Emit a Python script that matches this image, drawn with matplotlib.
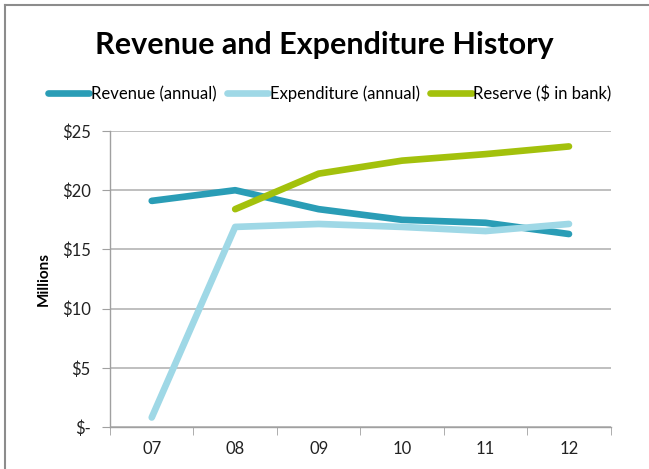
import matplotlib.pyplot as plt
from matplotlib.lines import Line2D
import numpy as np

# data (millions of dollars)
years = ['07', '08', '09', '10', '11', '12']
revenue = [19.1, 20.0, 18.4, 17.5, 17.25, 16.3]
expenditure = [0.8, 16.9, 17.15, 16.9, 16.55, 17.15]
reserve = [None, 18.4, 21.4, 22.5, 23.05, 23.7]
yticks = [0, 5, 10, 15, 20, 25]
ytick_labels = ['$-', '$5', '$10', '$15', '$20', '$25']

plt.rcParams['font.family'] = ['Lato', 'DejaVu Sans']

fig = plt.figure(figsize=(6.49, 4.69), dpi=100)
ax = fig.add_axes([0.1695, 0.0896, 0.7715, 0.631])

x = np.arange(len(years))
rev_col = '#2a9db6'
exp_col = '#9fd8e6'
res_col = '#a3c10c'
lw = 4.8

ax.plot(x, revenue, color=rev_col, lw=lw, solid_capstyle='round', solid_joinstyle='round')
ax.plot(x, expenditure, color=exp_col, lw=lw, solid_capstyle='round', solid_joinstyle='round')
res_x = [i for i, v in enumerate(reserve) if v is not None]
res_y = [v for v in reserve if v is not None]
ax.plot(res_x, res_y, color=res_col, lw=lw, solid_capstyle='round', solid_joinstyle='round')

ax.set_xlim(-0.5, len(years) - 0.5)
ax.set_ylim(0, 25)
ax.set_yticks(yticks)
ax.set_yticklabels(ytick_labels, fontsize=12, color='#222222')
ax.set_xticks(x)
ax.set_xticklabels(years, fontsize=12, color='#222222')
ax.set_xticks(np.arange(-0.5, len(years)), minor=True)
ax.tick_params(axis='x', which='major', length=0, pad=10)
ax.tick_params(axis='x', which='minor', length=6, color='#a0a0a0', direction='out')
ax.tick_params(axis='y', length=6, color='#a0a0a0', pad=8)

ax.grid(axis='y', color='#b4b4b4', lw=1.2)
ax.set_axisbelow(True)
for s in ['top', 'right']:
    ax.spines[s].set_visible(False)
for s in ['left', 'bottom']:
    ax.spines[s].set_color('#a0a0a0')
    ax.spines[s].set_linewidth(1)

ax.set_ylabel('Millions', fontsize=11, fontweight='bold', labelpad=8)

fig.text(0.5, 0.905, 'Revenue and Expenditure History', ha='center', va='center',
         fontsize=22, fontweight='bold')

handles = [Line2D([], [], color=c, lw=lw, solid_capstyle='round') for c in (rev_col, exp_col, res_col)]
fig.legend(handles, ['Revenue (annual)', 'Expenditure (annual)', 'Reserve ($ in bank)'],
           loc='center', bbox_to_anchor=(0.508, 0.8), ncol=3, frameon=False, fontsize=12,
           handlelength=2.5, handletextpad=0.1, columnspacing=0.6)

# chart frame (top and left edges visible)
fig.add_artist(Line2D([0.008, 1.0], [0.99, 0.99], color='#8c8c8c', lw=1.5, transform=fig.transFigure))
fig.add_artist(Line2D([0.008, 0.008], [0.0, 0.99], color='#8c8c8c', lw=1.5, transform=fig.transFigure))

fig.savefig('out.png', dpi=100)
